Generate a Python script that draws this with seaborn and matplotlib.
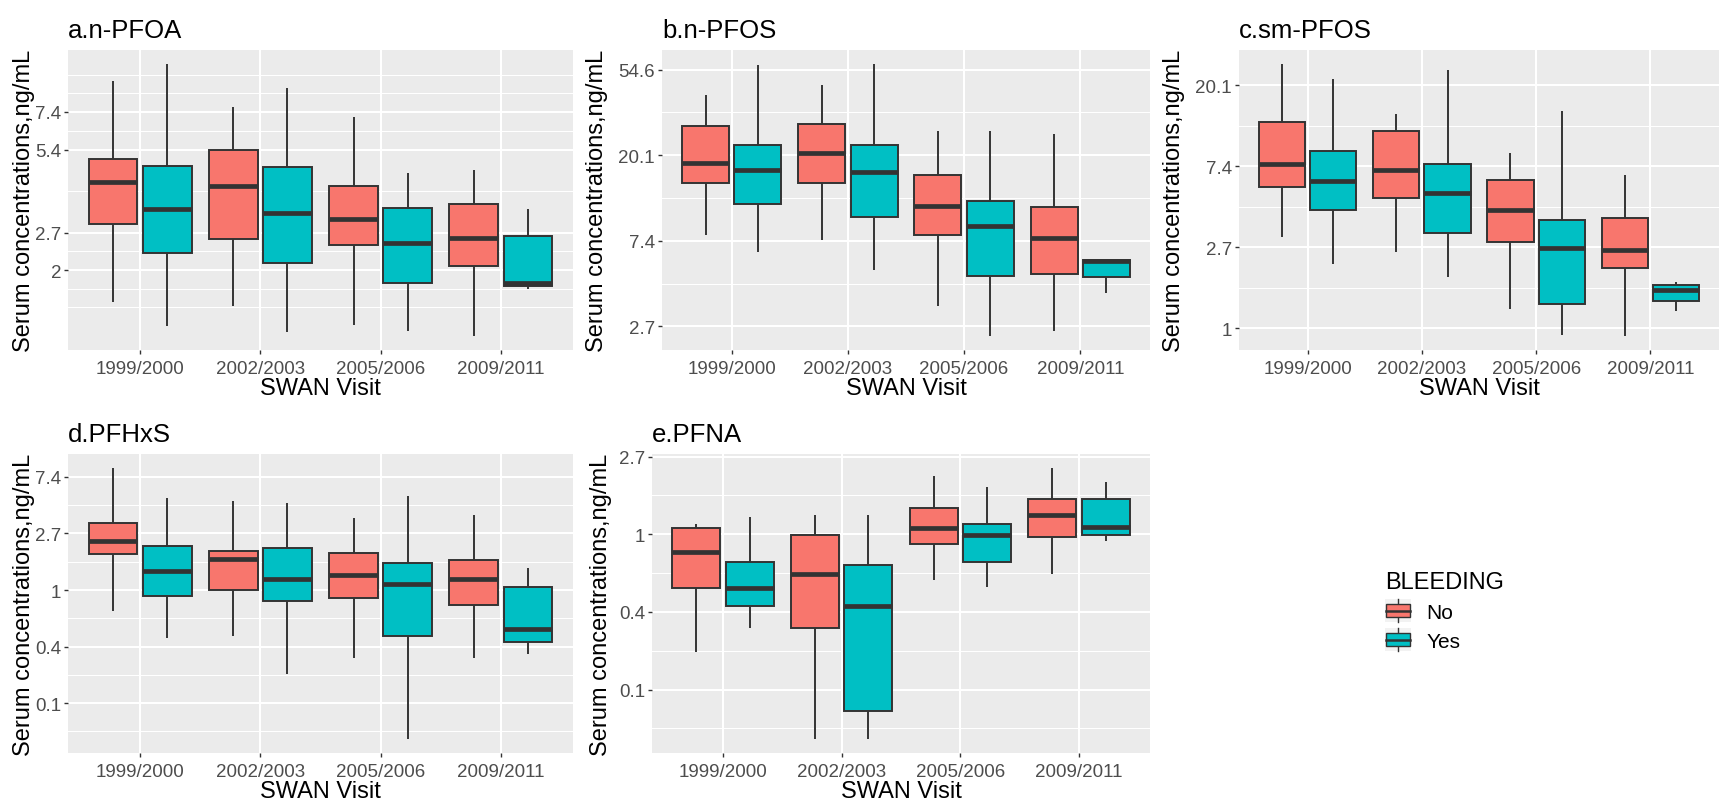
import numpy as np
import pandas as pd
import matplotlib
matplotlib.use("Agg")
import matplotlib.pyplot as plt
import seaborn as sns
from matplotlib.legend_handler import HandlerBase
from matplotlib.patches import Rectangle, Patch
from matplotlib.lines import Line2D

# ---------------- data (natural-log concentrations; box stats lo,q1,med,q3,hi) -------------
visits = ["1999/2000", "2002/2003", "2005/2006", "2009/2011"]
groups = ["No", "Yes"]
colors = ["#F8766D", "#00BFC4"]

a_no = [[0.427, 1.074, 1.416, 1.606, 2.253],
        [0.394, 0.953, 1.388, 1.686, 2.039],
        [0.237, 0.904, 1.118, 1.386, 1.959],
        [0.146, 0.730, 0.956, 1.240, 1.523]]
a_yes = [[0.234, 0.832, 1.196, 1.551, 2.397],
         [0.182, 0.752, 1.168, 1.543, 2.193],
         [0.190, 0.584, 0.917, 1.209, 1.496],
         [0.540, 0.559, 0.590, 0.975, 1.201]]

b_no = [[2.064, 2.675, 2.913, 3.342, 3.708],
        [2.009, 2.675, 3.022, 3.361, 3.825],
        [1.234, 2.072, 2.403, 2.765, 3.279],
        [0.942, 1.612, 2.033, 2.399, 3.252]]
b_yes = [[1.873, 2.426, 2.831, 3.123, 4.058],
         [1.655, 2.274, 2.804, 3.120, 4.070],
         [0.883, 1.593, 2.169, 2.469, 3.279],
         [1.390, 1.577, 1.764, 1.779, 1.779]]

c_no = [[1.125, 1.739, 2.019, 2.547, 3.264],
        [0.944, 1.607, 1.949, 2.431, 2.637],
        [0.231, 1.063, 1.459, 1.826, 2.164],
        [-0.103, 0.746, 0.960, 1.356, 1.883]]
c_yes = [[0.792, 1.455, 1.809, 2.180, 3.078],
         [0.631, 1.175, 1.669, 2.023, 3.181],
         [-0.082, 0.301, 0.993, 1.331, 2.683],
         [0.215, 0.330, 0.474, 0.528, 0.565]]

d_no = [[-0.376, 0.629, 0.865, 1.188, 2.165],
        [-0.818, 0.000, 0.547, 0.694, 1.582],
        [-1.194, -0.135, 0.271, 0.659, 1.265],
        [-1.194, -0.259, 0.194, 0.529, 1.335]]
d_yes = [[-0.841, -0.106, 0.341, 0.776, 1.629],
         [-1.488, -0.188, 0.194, 0.735, 1.535],
         [-2.641, -0.806, 0.100, 0.471, 1.665],
         [-1.135, -0.918, -0.688, 0.047, 0.394]]

e_no = [[-1.512, -0.697, -0.230, 0.087, 0.134],
        [-2.643, -1.207, -0.517, -0.012, 0.250],
        [-0.590, -0.119, 0.087, 0.344, 0.747],
        [-0.513, -0.033, 0.254, 0.460, 0.859]]
e_yes = [[-1.203, -0.925, -0.697, -0.363, 0.228],
         [-2.643, -2.275, -0.920, -0.397, 0.250],
         [-0.676, -0.363, -0.007, 0.126, 0.610],
         [-0.093, -0.012, 0.091, 0.460, 0.674]]

titles = ["a.n-PFOA", "b.n-PFOS", "c.sm-PFOS", "d.PFHxS", "e.PFNA"]
a_breaks = [0.693, 1, 1.686, 2];  a_labels = ["2", "2.7", "5.4", "7.4"]
b_breaks = [1, 2, 3, 4];          b_labels = ["2.7", "7.4", "20.1", "54.6"]
c_breaks = [0, 1, 2, 3];          c_labels = ["1", "2.7", "7.4", "20.1"]
d_breaks = [-2, -1, 0, 1, 2];     d_labels = ["0.1", "0.4", "1", "2.7", "7.4"]
e_breaks = [-2, -1, 0, 1];        e_labels = ["0.1", "0.4", "1", "2.7"]

x_title = "SWAN Visit"
y_title = "Serum concentrations,ng/mL"

# ---------------- style -------------
plt.rcParams['font.family'] = ['Liberation Sans', 'DejaVu Sans']
W, H = 1722, 804
fig = plt.figure(figsize=(W / 100, H / 100), dpi=100)

# panel rectangles in pixels: left, top, right, bottom ; ylabel offset
rects = [(68, 51, 573, 351, 33), (662, 51, 1150, 351, 54), (1239, 51, 1719, 351, 54),
         (68, 455, 573, 754, 33), (652, 455, 1150, 754, 40)]

panels = [(a_no, a_yes, a_breaks, a_labels), (b_no, b_yes, b_breaks, b_labels),
          (c_no, c_yes, c_breaks, c_labels), (d_no, d_yes, d_breaks, d_labels),
          (e_no, e_yes, e_breaks, e_labels)]


def minor_breaks(br, lim):
    b = list(br)
    bd = b[1] - b[0]
    if lim[0] < b[0]:
        b = [b[0] - bd] + b
    if lim[1] > b[-1]:
        b = b + [b[-1] + bd]
    out = []
    for i in range(len(b) - 1):
        out += [b[i], (b[i] + b[i + 1]) / 2]
    out.append(b[-1])
    return [v for v in out if lim[0] <= v <= lim[1]]


for (l, t, r, btm, yoff), title, (no, yes, br, lab) in zip(rects, titles, panels):
    ax = fig.add_axes([l / W, 1 - btm / H, (r - l) / W, (btm - t) / H])
    rows = []
    for vi, v in enumerate(visits):
        for g, arr in zip(groups, (no, yes)):
            for val in arr[vi]:
                rows.append((v, g, val))
    df = pd.DataFrame(rows, columns=["visit", "bleeding", "value"])
    sns.boxplot(data=df, x="visit", y="value", hue="bleeding", order=visits,
                hue_order=groups, palette=dict(zip(groups, colors)), saturation=1,
                width=0.9, gap=0.1, whis=(0, 100), linecolor="#333333", linewidth=1.4,
                medianprops=dict(linewidth=3.4, color="#333333"),
                showcaps=False, showfliers=False, legend=False, ax=ax)
    vals = df["value"]
    rng = vals.max() - vals.min()
    lim = (vals.min() - 0.05 * rng, vals.max() + 0.05 * rng)
    ax.set_ylim(lim)
    ax.set_xlim(-0.6, 3.6)
    ax.set_facecolor("#EBEBEB")
    for s in ax.spines.values():
        s.set_visible(False)
    ax.set_yticks(br)
    ax.set_yticklabels(lab)
    ax.set_yticks(minor_breaks(br, lim), minor=True)
    ax.grid(which="major", color="white", linewidth=1.5)
    ax.grid(which="minor", axis="y", color="white", linewidth=0.75)
    ax.set_axisbelow(True)
    ax.tick_params(which="major", length=3.2, width=1.0, color="#333333",
                   labelcolor="#4D4D4D", labelsize=13.5, pad=1.8)
    ax.tick_params(axis="x", pad=4)
    ax.tick_params(which="minor", length=0)
    ax.set_xlabel(x_title, fontsize=17, labelpad=0)
    ax.set_ylabel(y_title, fontsize=17)
    ax.yaxis.set_label_coords(-yoff / (r - l), 0.5)
    ax.set_title(title, loc="left", fontsize=18.5, pad=9)


class BoxKey(HandlerBase):
    def create_artists(self, legend, orig_handle, xdescent, ydescent, width, height,
                       fontsize, trans):
        x0, y0 = -xdescent, -ydescent
        bg = Rectangle((x0, y0), width, height, facecolor="#F2F2F2", edgecolor="none",
                       transform=trans)
        box = Rectangle((x0 + 0.05 * width, y0 + 0.22 * height), 0.9 * width, 0.56 * height,
                        facecolor=orig_handle.get_facecolor(), edgecolor="#333333",
                        linewidth=1.0, transform=trans)
        med = Line2D([x0 + 0.05 * width, x0 + 0.95 * width], [y0 + 0.5 * height] * 2,
                     color="#333333", linewidth=1.8, transform=trans)
        w1 = Line2D([x0 + width / 2] * 2, [y0, y0 + 0.22 * height], color="#333333",
                    linewidth=1.0, transform=trans)
        w2 = Line2D([x0 + width / 2] * 2, [y0 + 0.78 * height, y0 + height],
                    color="#333333", linewidth=1.0, transform=trans)
        return [bg, w1, w2, box, med]


handles = [Patch(facecolor=c) for c in colors]
fig.legend(handles=handles, labels=groups, title="BLEEDING",
           handler_map={Patch: BoxKey()}, loc="upper left",
           bbox_to_anchor=(1385 / W, 1 - 572 / H), frameon=False, fontsize=15,
           title_fontsize=17, handlelength=1.25, handleheight=1.3, labelspacing=0.3,
           handletextpad=0.75, borderpad=0, borderaxespad=0, alignment="left")

fig.savefig("out.png", dpi=100, facecolor="white")
